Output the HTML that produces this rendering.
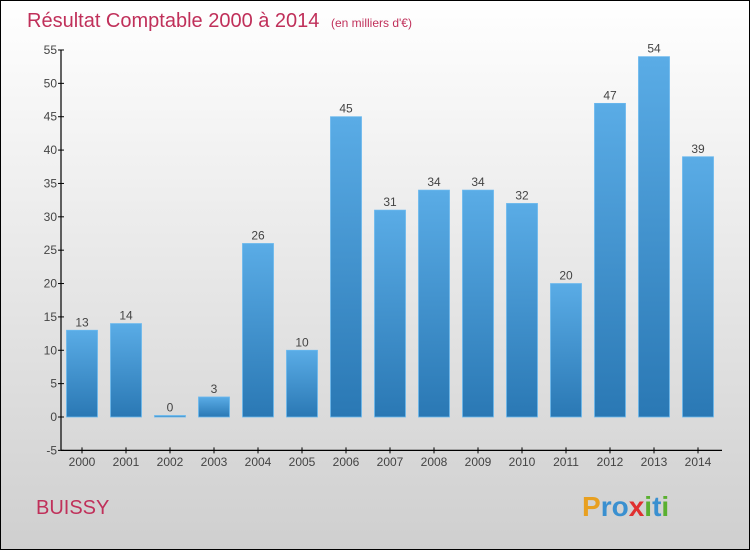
<!DOCTYPE html>
<html><head><meta charset="utf-8"><style>
body{margin:0;width:750px;height:550px;overflow:hidden;font-family:"Liberation Sans",sans-serif}
</style></head><body>
<svg width="750" height="550" xmlns="http://www.w3.org/2000/svg">
<defs>
<linearGradient id="bg" x1="0" y1="0" x2="0" y2="1"><stop offset="0" stop-color="#ffffff"/><stop offset="1" stop-color="#cfcfcf"/></linearGradient>
<linearGradient id="bar" x1="0" y1="0" x2="0" y2="1"><stop offset="0" stop-color="#5aace6"/><stop offset="1" stop-color="#2a78b4"/></linearGradient>
</defs>
<rect x="0.5" y="0.5" width="749" height="549" fill="url(#bg)" stroke="#000"/>
<text x="27" y="27" font-size="20" fill="#c0305a">Résultat Comptable 2000 à 2014 <tspan font-size="12" dx="6">(en milliers d'€)</tspan></text>
<text x="36" y="514" font-size="20" fill="#c0305a">BUISSY</text>
<text x="582" y="516" font-size="28" font-weight="bold"><tspan fill="#e8a020">P</tspan><tspan fill="#3a90d0">r</tspan><tspan fill="#3a90d0">o</tspan><tspan fill="#e03030">x</tspan><tspan fill="#5ab030">i</tspan><tspan fill="#3a90d0">t</tspan><tspan fill="#5ab030">i</tspan></text>
<g id="plot"></g>
</svg>
<script>
const categories=["2000","2001","2002","2003","2004","2005","2006","2007","2008","2009","2010","2011","2012","2013","2014"];
const values=[13,14,0,3,26,10,45,31,34,34,32,20,47,54,39];
const yTicks=[-5,0,5,10,15,20,25,30,35,40,45,50,55];
const NS="http://www.w3.org/2000/svg";
const g=document.getElementById('plot');
const y=v=>417-v*6.673;
const x=i=>82+i*44;
function mk(t,a,txt){const e=document.createElementNS(NS,t);for(const k in a)e.setAttribute(k,a[k]);if(txt!==undefined)e.textContent=txt;g.appendChild(e);return e;}
let ax=mk('line',{x1:61,y1:y(55),x2:61,y2:y(-5),stroke:'#000','stroke-width':1.2});


let bx=mk('line',{x1:61,y1:y(-5),x2:722,y2:y(-5),stroke:'#000','stroke-width':1.2});


yTicks.forEach(t=>{
 const l=mk('line',{x1:58,y1:y(t),x2:64,y2:y(t),stroke:'#000'});
 
 
 const tx=mk('text',{x:57,y:y(t)+4,'font-size':12,fill:'#444','text-anchor':'end'},String(t));
 
 
});
categories.forEach((c,i)=>{
 const v=values[i];
 const top=Math.min(y(v),y(0)-1.5);
 const r=mk('rect',{x:x(i)-15.5,y:top,width:31,height:y(0)-top,fill:'url(#bar)',stroke:'#6ab8ee','stroke-width':0.8});
 
 
 const vl=mk('text',{x:x(i),y:top-4,'font-size':12,fill:'#444','text-anchor':'middle'},String(v));
 
 
 const tk=mk('line',{x1:x(i),y1:y(-5)-3,x2:x(i),y2:y(-5)+3,stroke:'#000'});
 
 
 const cl=mk('text',{x:x(i),y:466,'font-size':12,fill:'#444','text-anchor':'middle'},c);
 
 
});
</script>
</body></html>
